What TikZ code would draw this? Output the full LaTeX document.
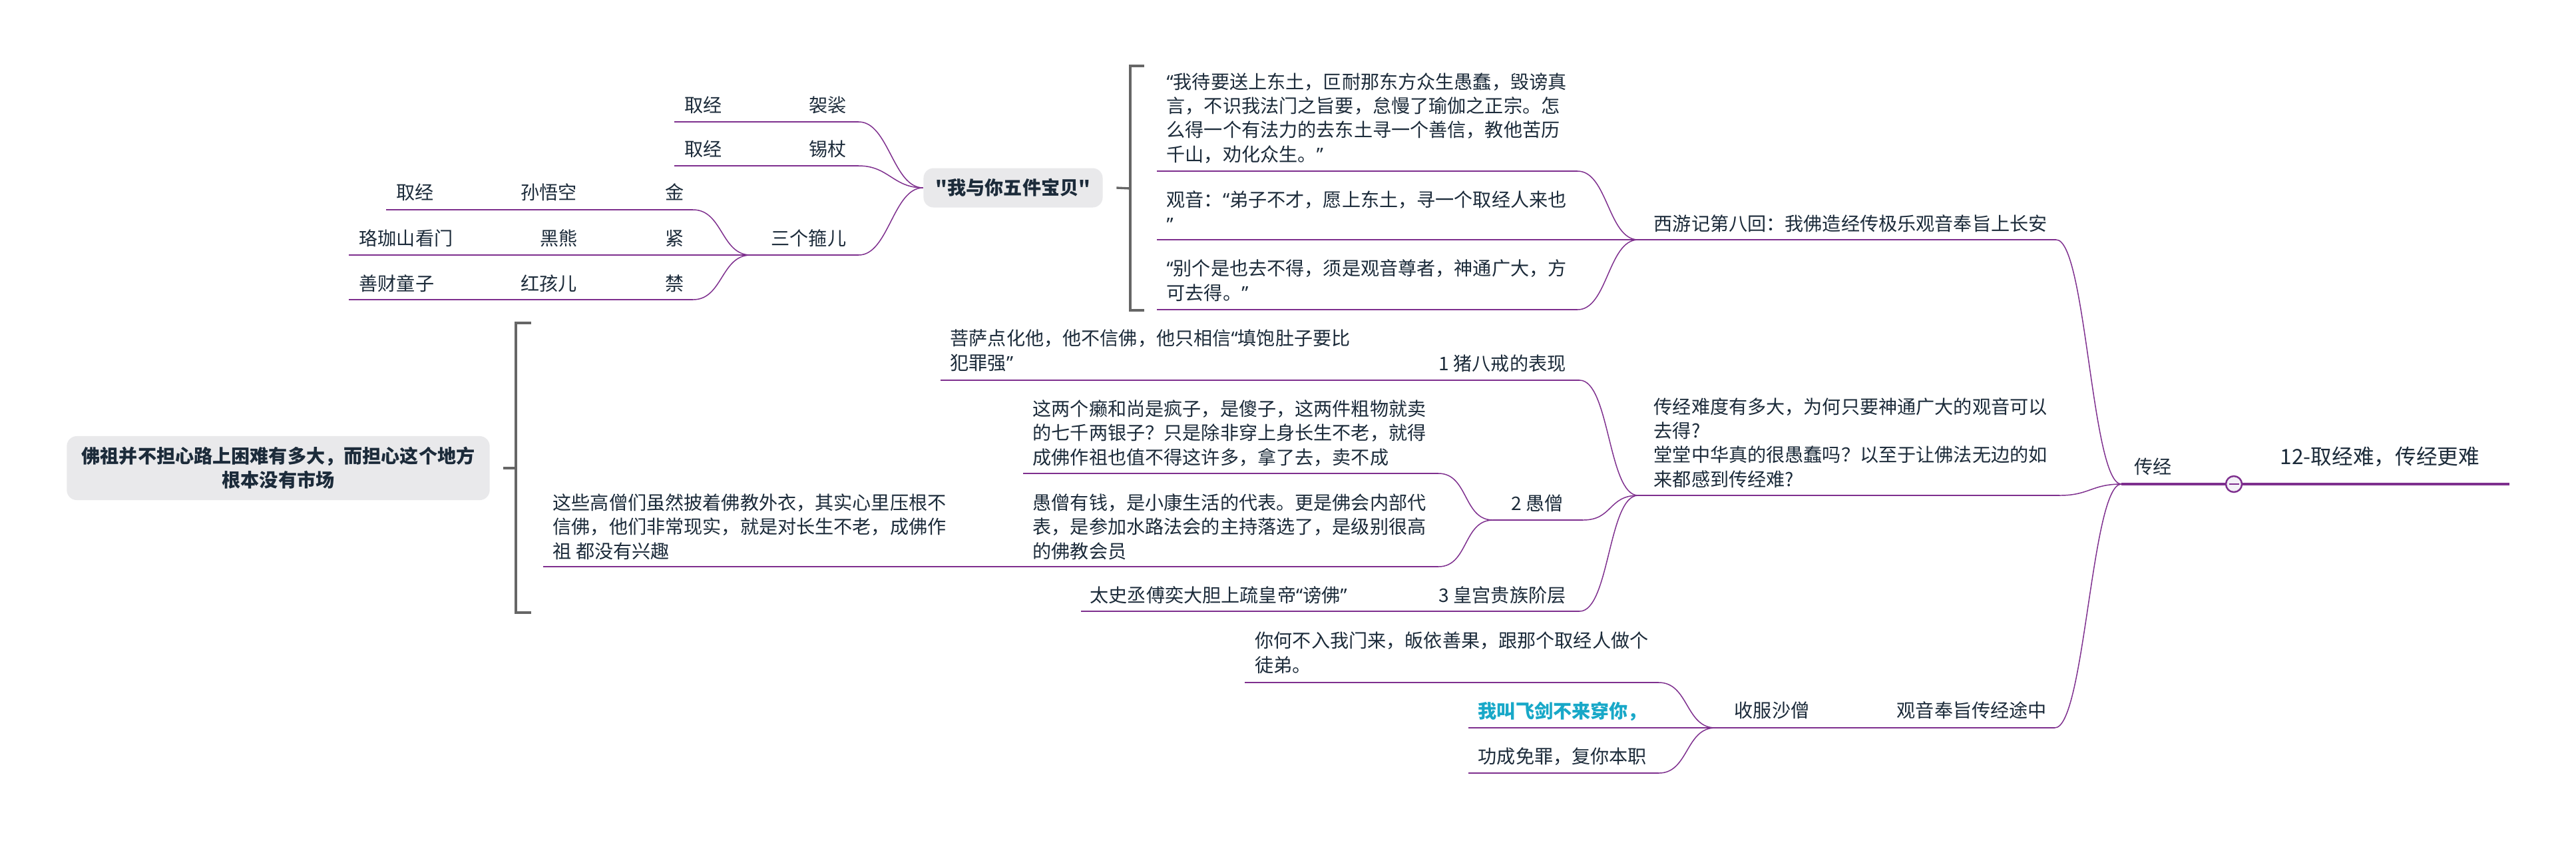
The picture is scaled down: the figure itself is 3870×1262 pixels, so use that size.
\documentclass[tikz,border=0pt]{standalone}
\usepackage{fontspec}
\setmainfont{Noto Sans CJK SC}[Ligatures=TeXOff]
\newfontfamily\latq{Noto Sans}[Ligatures=TeXOff]
\usepackage{tikz}
\definecolor{pur}{HTML}{7E2F8E}
\definecolor{ink}{HTML}{1C2B3A}
\definecolor{cyn}{HTML}{18A8C8}
\definecolor{boxg}{HTML}{E9E9EB}
\definecolor{brk}{HTML}{666666}
\definecolor{foldf}{HTML}{F3F0F7}

\begin{document}
\begin{tikzpicture}[x=0.01cm,y=-0.01cm,
    t/.style={anchor=base west,inner sep=0pt,text=ink,align=left,font=\fontsize{8}{10.25}\selectfont},
    ul/.style={draw=pur,line width=0.5pt},
    lk/.style={draw=pur,line width=0.42pt},
    bx/.style={fill=boxg,rounded corners=4.3pt,text=ink,align=center,inner sep=0pt,font=\bfseries\fontsize{8}{10.25}\selectfont},
    smry/.style={draw=brk,line width=0.95pt}]
  \fill[white] (0,0) rectangle (3870,1262);
  \useasboundingbox (0,0) rectangle (3870,1262);

  \node[t,font=\fontsize{9}{11}\selectfont] (root) at (3425,697) {12-取经难，传经更难};
  \node[t] (cj) at (3206,711) {传经};
  \node[circle,draw=pur,fill=foldf,line width=0.7pt,minimum size=0.24cm,inner sep=0pt] (fold) at (3356,727) {};
  \coordinate (cjL) at (3187,727); \coordinate (rootR) at (3770,727);
  \draw[pur,line width=0.95pt] (cjL) -- (fold.west) (fold.east) -- (rootR);
  \draw[pur,line width=0.8pt] ([xshift=-0.075cm]fold.center) -- ([xshift=0.075cm]fold.center);

  \node[t] (xyj) at (2484,346) {西游记第八回：我佛造经传极乐观音奉旨上长安};
  \coordinate (xyjL) at (2461,360); \coordinate (xyjR) at (3089,360);
  \node[t] (nd) at (2484,730) {传经难度有多大，为何只要神通广大的观音可以\\去得?\\堂堂中华真的很愚蠢吗？以至于让佛法无边的如\\来都感到传经难?};
  \coordinate (ndL) at (2461,744); \coordinate (ndR) at (3094,744);
  \node[t] (gy) at (2849,1077) {观音奉旨传经途中};
  \node[t] (sfs) at (2605,1077) {收服沙僧};
  \coordinate (sfsL) at (2577,1093); \coordinate (gyL) at (2820,1093); \coordinate (gyR) at (3087,1093);
  \draw[ul] (xyjL) -- (xyjR); \draw[ul] (ndL) -- (ndR); \draw[ul] (sfsL) -- (gyL) -- (gyR);
  \draw[lk] (xyjR) .. controls +(45,0) and +(-45,0) .. (cjL);
  \draw[lk] (ndR) .. controls +(45,0) and +(-45,0) .. (cjL);
  \draw[lk] (gyR) .. controls +(45,0) and +(-45,0) .. (cjL);

  \node[t] (q1) at (1752,242) {{\latq “}我待要送上东土，叵耐那东方众生愚蠢，毁谤真\\言，不识我法门之旨要，怠慢了瑜伽之正宗。怎\\么得一个有法力的去东土寻一个善信，教他苦历\\千山，劝化众生。{\latq ”}};
  \node[t] (q2) at (1752,347) {观音：{\latq “}弟子不才，愿上东土，寻一个取经人来也\\{\latq ”}};
  \node[t] (q3) at (1752,450) {{\latq “}别个是也去不得，须是观音尊者，神通广大，方\\可去得。{\latq ”}};
  \coordinate (q1L) at (1738,257); \coordinate (q1R) at (2370,257);
  \coordinate (q2L) at (1738,360);
  \coordinate (q3L) at (1738,465); \coordinate (q3R) at (2370,465);
  \draw[ul] (q1L) -- (q1R); \draw[ul] (q2L) -- (xyjL); \draw[ul] (q3L) -- (q3R);
  \draw[lk] (q1R) .. controls +(45,0) and +(-45,0) .. (xyjL);
  \draw[lk] (q3R) .. controls +(45,0) and +(-45,0) .. (xyjL);

  \node[bx,minimum width=2.69cm,minimum height=0.59cm] (bao) at (1522,282) {"我与你五件宝贝"};
  \draw[smry] (1719,99) -- (1698,99) -- (1698,466) -- (1719,466);
  \draw[smry] (1698,283) -- ([xshift=0.2cm]bao.east);

  \node[t] (r1a) at (1028,168) {取经}; \node[t] (r1b) at (1215,168) {袈裟};
  \node[t] (r2a) at (1028,234) {取经}; \node[t] (r2b) at (1215,234) {锡杖};
  \node[t] (r3) at (1158,368) {三个箍儿};
  \coordinate (r1L) at (1013,183); \coordinate (r1R) at (1290,183);
  \coordinate (r2L) at (1013,249); \coordinate (r2R) at (1290,249);
  \coordinate (r3L) at (1128,383); \coordinate (r3R) at (1290,383);
  \draw[ul] (r1L) -- (r1R); \draw[ul] (r2L) -- (r2R); \draw[ul] (r3L) -- (r3R);
  \draw[lk] (r1R) .. controls +(45,0) and +(-45,0) .. (bao.west);
  \draw[lk] (r2R) .. controls +(45,0) and +(-45,0) .. (bao.west);
  \draw[lk] (r3R) .. controls +(45,0) and +(-45,0) .. (bao.west);

  \node[t] (h1a) at (595,299) {取经}; \node[t] (h1b) at (782,299) {孙悟空}; \node[t] (h1c) at (999,299) {金};
  \node[t] (h2a) at (539,368) {珞珈山看门}; \node[t] (h2b) at (811,368) {黑熊}; \node[t] (h2c) at (999,368) {紧};
  \node[t] (h3a) at (539,436) {善财童子}; \node[t] (h3b) at (782,436) {红孩儿}; \node[t] (h3c) at (999,436) {禁};
  \coordinate (h1L) at (580,315); \coordinate (h1R) at (1041,315);
  \coordinate (h2L) at (524,383);
  \coordinate (h3L) at (524,450); \coordinate (h3R) at (1041,450);
  \draw[ul] (h1L) -- (h1R); \draw[ul] (h2L) -- (r3L); \draw[ul] (h3L) -- (h3R);
  \draw[lk] (h1R) .. controls +(45,0) and +(-45,0) .. (r3L);
  \draw[lk] (h3R) .. controls +(45,0) and +(-45,0) .. (r3L);

  \node[t] (b1) at (2161,556) {1 猪八戒的表现};
  \node[t] (b1c) at (1427,555) {菩萨点化他，他不信佛，他只相信{\latq “}填饱肚子要比\\犯罪强{\latq ”}};
  \coordinate (b1L) at (1413,571); \coordinate (b1R) at (2373,571);
  \node[t] (b2) at (2270,766) {2 愚僧};
  \node[t] (b2a) at (1551,697) {这两个癞和尚是疯子，是傻子，这两件粗物就卖\\的七千两银子？只是除非穿上身长生不老，就得\\成佛作祖也值不得这许多，拿了去，卖不成};
  \node[t] (b2b) at (1551,838) {愚僧有钱，是小康生活的代表。更是佛会内部代\\表，是参加水路法会的主持落选了，是级别很高\\的佛教会员};
  \node[t] (b2c) at (830,838) {这些高僧们虽然披着佛教外衣，其实心里压根不\\信佛，他们非常现实，就是对长生不老，成佛作\\祖 都没有兴趣};
  \coordinate (b2L) at (2243,781); \coordinate (b2R) at (2378,781);
  \coordinate (b2aL) at (1537,711); \coordinate (b2aR) at (2161,711);
  \coordinate (b2bR) at (2161,851); \coordinate (b2cL) at (816,851);
  \node[t] (b3) at (2161,904) {3 皇宫贵族阶层};
  \node[t] (b3c) at (1637,904) {太史丞傅奕大胆上疏皇帝{\latq “}谤佛{\latq ”}};
  \coordinate (b3L) at (1624,918); \coordinate (b3R) at (2373,918);
  \draw[ul] (b1L) -- (b1R); \draw[ul] (b2L) -- (b2R); \draw[ul] (b2aL) -- (b2aR);
  \draw[ul] (b2cL) -- (b2bR); \draw[ul] (b3L) -- (b3R);
  \draw[lk] (b1R) .. controls +(45,0) and +(-45,0) .. (ndL);
  \draw[lk] (b2R) .. controls +(45,0) and +(-45,0) .. (ndL);
  \draw[lk] (b3R) .. controls +(45,0) and +(-45,0) .. (ndL);
  \draw[lk] (b2aR) .. controls +(45,0) and +(-45,0) .. (b2L);
  \draw[lk] (b2bR) .. controls +(45,0) and +(-45,0) .. (b2L);

  \node[bx,minimum width=6.35cm,minimum height=0.96cm] (fz) at (418,703) {佛祖并不担心路上困难有多大，而担心这个地方\\根本没有市场};
  \draw[smry] (798,485) -- (775,485) -- (775,920) -- (798,920);
  \draw[smry] (775,703) -- ([xshift=0.2cm]fz.east);

  \node[t] (c1) at (1885,1009) {你何不入我门来，皈依善果，跟那个取经人做个\\徒弟。};
  \node[t,text=cyn,font=\bfseries\fontsize{8}{10.25}\selectfont] (c2) at (2220,1078) {我叫飞剑不来穿你，};
  \node[t] (c3) at (2220,1146) {功成免罪，复你本职};
  \coordinate (c1L) at (1870,1025); \coordinate (c1R) at (2492,1025);
  \coordinate (c2L) at (2206,1093);
  \coordinate (c3L) at (2206,1161); \coordinate (c3R) at (2492,1161);
  \draw[ul] (c1L) -- (c1R); \draw[ul] (c2L) -- (sfsL); \draw[ul] (c3L) -- (c3R);
  \draw[lk] (c1R) .. controls +(45,0) and +(-45,0) .. (sfsL);
  \draw[lk] (c3R) .. controls +(45,0) and +(-45,0) .. (sfsL);
\end{tikzpicture}
\end{document}
